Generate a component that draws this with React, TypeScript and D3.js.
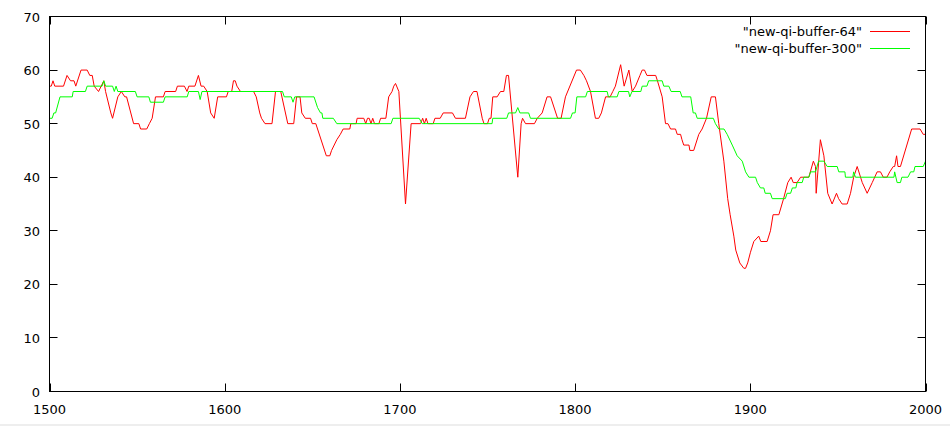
import React, { useEffect, useRef } from "react";
import * as d3 from "d3";

// values (x, y) vertices
const buffer64: [number, number][] = [
  [1500, 57], [1501, 57], [1502, 58], [1503, 57], [1508, 57], [1510, 59], [1512, 58],
  [1514, 58], [1515, 57], [1518, 60], [1521.5, 60], [1523, 59], [1524.4, 59], [1525.5, 57],
  [1528, 56], [1531, 58], [1532, 56], [1535, 52], [1536, 51], [1539, 55], [1541, 56],
  [1543, 55], [1544, 55], [1548, 50], [1551, 50], [1552, 49], [1555.5, 49], [1557, 50],
  [1558.6, 51], [1560.5, 55], [1565, 55], [1566, 56], [1572, 56], [1573, 57], [1577, 57],
  [1578.5, 56], [1579.5, 57], [1583, 57], [1585, 59], [1586.5, 57], [1588, 57], [1590, 56],
  [1592, 52], [1594, 51], [1596, 55], [1601, 55], [1602, 56], [1604, 56], [1605, 58],
  [1606, 58], [1607, 57], [1609, 56], [1616.5, 56], [1618, 55], [1620, 52], [1621, 51],
  [1623, 50], [1627, 50], [1629, 56], [1632, 56], [1636, 50], [1639.4, 50], [1641, 55],
  [1643, 55], [1644, 52], [1646, 51], [1649, 51], [1650, 50], [1652, 50], [1658, 44],
  [1660, 44], [1661, 45], [1664, 47], [1666, 48], [1667.6, 49], [1671.4, 49], [1672, 50],
  [1675, 50], [1675.6, 51], [1679.4, 51], [1680.5, 50], [1681.5, 51], [1682.5, 51],
  [1683.5, 50], [1684.5, 51], [1685.5, 50], [1688, 50], [1689, 51], [1692, 51],
  [1693.6, 55], [1695.5, 56], [1696.5, 57], [1697.5, 57.5], [1699.4, 56], [1703.2, 35],
  [1706.4, 50], [1711.8, 50], [1713, 51], [1714, 50], [1715, 51], [1716, 50], [1719, 50],
  [1720, 51], [1723, 51], [1724.7, 52], [1730, 52], [1731.7, 51], [1737.4, 51], [1740, 55],
  [1742, 56], [1744, 56], [1747, 51], [1748, 50], [1750, 50], [1751, 51], [1752, 51],
  [1753, 55], [1755.5, 55], [1757.4, 56], [1759.3, 56], [1760.8, 59], [1762, 59],
  [1767.3, 40], [1769.2, 50], [1770, 51], [1771.7, 50], [1776.8, 50], [1778.4, 51],
  [1781.2, 52], [1784, 55], [1786, 55], [1790, 51], [1792, 51], [1794.5, 55], [1800.8, 60],
  [1803, 60], [1805, 59], [1806.5, 58], [1808.8, 56], [1811.6, 51], [1813.5, 51],
  [1815, 52], [1817.4, 55], [1820, 55], [1821.5, 56], [1823, 57], [1826, 61], [1828, 57],
  [1830.7, 60], [1832.6, 56], [1834.5, 57], [1837, 59], [1838.3, 60], [1839.6, 60],
  [1841, 59], [1846, 59], [1847, 58], [1849.7, 55], [1851.6, 50], [1853, 50], [1854.5, 49],
  [1857.3, 49], [1858.3, 48], [1860.2, 48], [1861, 47], [1862, 46], [1865, 46],
  [1865.5, 45], [1867.7, 45], [1870.6, 48], [1872.5, 49], [1875, 51], [1877.7, 55],
  [1880.1, 55], [1882, 50], [1884.9, 43], [1887.1, 36], [1888.5, 33], [1890.6, 29],
  [1891.7, 26.4], [1894, 24], [1896.3, 23], [1897.3, 23], [1898.5, 24], [1900.1, 26],
  [1902, 28], [1904.8, 29], [1906, 28], [1909.6, 28], [1911.5, 30], [1913, 33],
  [1916.3, 33], [1919, 36], [1921.4, 39], [1923.3, 40], [1924.5, 39], [1926.7, 39],
  [1928.7, 40], [1933.4, 40], [1936, 43], [1937.2, 42], [1937.6, 37], [1940, 47],
  [1942, 44], [1944.2, 37], [1946.7, 35], [1949.2, 37], [1950.4, 36], [1952.4, 35],
  [1955.3, 35], [1957.2, 37], [1959, 40], [1961, 42], [1963.9, 39], [1966.7, 37],
  [1969.6, 39], [1972.4, 41], [1974.3, 41], [1975.9, 40], [1978, 40], [1979.6, 41],
  [1981.6, 42], [1982.4, 42], [1983.5, 44], [1984.3, 42], [1985.7, 42], [1992.1, 49],
  [1996.9, 49], [1998.7, 48], [2000, 48],
];

const buffer300: [number, number][] = [
  [1500, 51], [1501.5, 51], [1502.5, 52], [1503.5, 52], [1506, 55], [1513, 55],
  [1513.5, 56], [1520.5, 56], [1521.5, 57], [1530, 57], [1531, 58], [1532, 57],
  [1536, 57], [1537, 56], [1538, 57], [1539, 56], [1549, 56], [1550, 55], [1556.7, 55],
  [1557.6, 54], [1565, 54], [1566, 55], [1578.6, 55], [1579.5, 56], [1585, 56],
  [1586, 54.5], [1587, 56], [1633, 56], [1634, 55], [1638, 55], [1639, 54], [1640, 55],
  [1651, 55], [1653, 53], [1654.7, 52], [1655.5, 52], [1656, 51], [1662, 51], [1664, 50],
  [1695, 50], [1696, 51], [1711, 51], [1712.7, 50], [1752.6, 50], [1753, 51], [1761, 51],
  [1762, 52], [1766, 52], [1767.3, 53], [1768.5, 52], [1773.5, 52], [1774.5, 51],
  [1797.4, 51], [1798.5, 52], [1800, 52], [1801, 55], [1806, 55], [1807, 56],
  [1818.3, 56], [1819, 55], [1824, 55], [1825, 56], [1830.5, 56], [1831.2, 55],
  [1832.5, 56], [1837.5, 56], [1838.3, 57], [1841, 57], [1842, 58], [1849.7, 58],
  [1850.6, 57], [1853.5, 57], [1854.8, 56], [1860, 56], [1861, 55], [1866, 55],
  [1867.4, 52], [1868.7, 52], [1869.7, 51], [1878.9, 51], [1880.1, 50], [1882, 49],
  [1885, 49], [1886.8, 48], [1889.7, 46], [1892.5, 44], [1895.4, 43], [1897.3, 41],
  [1899.2, 40], [1903, 40], [1904, 39], [1905.8, 38], [1907.7, 38], [1908.5, 37],
  [1911.5, 37], [1912.5, 36], [1920, 36], [1921, 37], [1923, 37], [1924, 38], [1926, 38],
  [1926.7, 39], [1929.6, 39], [1930.5, 40], [1933.4, 40], [1934.4, 41], [1937.2, 41],
  [1939, 43], [1942, 43], [1943.9, 42], [1949.6, 42], [1950.5, 41], [1954, 41],
  [1954.3, 40], [1958.5, 40], [1959, 41], [1960, 40], [1982, 40], [1982.4, 41],
  [1983.8, 39], [1985.7, 39], [1986.5, 40], [1990, 40], [1991.5, 41], [1993.3, 41],
  [1994, 42], [1998.7, 42], [2000, 43],
];

const xTicks = [1500, 1600, 1700, 1800, 1900, 2000];
const yTicks = [0, 10, 20, 30, 40, 50, 60, 70];
const seriesNames = ['"new-qi-buffer-64"', '"new-qi-buffer-300"'];
const seriesColors = ["#ff0000", "#00ff00"];

const W = 950;
const H = 426;

export default function App() {
  const svgRef = useRef<SVGSVGElement>(null);

  useEffect(() => {
    const svg = d3.select(svgRef.current);
    svg.selectAll("*").remove();

    const left = 49.5, right = 925.5, top = 16.5, bottom = 391.5;
    const x = d3.scaleLinear().domain([1500, 2000]).range([left, right]);
    const y = d3.scaleLinear().domain([0, 70]).range([bottom, top]);
    const font = "DejaVu Sans, sans-serif";

    svg.append("rect").attr("width", W).attr("height", H).attr("fill", "#fff");
    // light strip along the bottom edge
    svg.append("rect").attr("x", 0).attr("y", 424).attr("width", W).attr("height", 2).attr("fill", "#eeeeee");

    const tickLen = 8;
    const g = svg.append("g").attr("stroke", "#000").attr("stroke-width", 1);

    xTicks.forEach((t) => {
      const px = Math.round(x(t)) + 0.5;
      g.append("line").attr("x1", px).attr("x2", px).attr("y1", bottom).attr("y2", bottom - tickLen);
      g.append("line").attr("x1", px).attr("x2", px).attr("y1", top).attr("y2", top + tickLen);
    });
    yTicks.forEach((t) => {
      const py = Math.round(y(t) - 0.5) + 0.5;
      g.append("line").attr("x1", left).attr("x2", left + tickLen).attr("y1", py).attr("y2", py);
      g.append("line").attr("x1", right).attr("x2", right - tickLen).attr("y1", py).attr("y2", py);
    });

    svg
      .selectAll(".xlab")
      .data(xTicks)
      .enter()
      .append("text")
      .attr("x", (d) => x(d))
      .attr("y", 414)
      .attr("text-anchor", "middle")
      .attr("font-family", font)
      .attr("font-size", 13)
      .text((d) => d);

    svg
      .selectAll(".ylab")
      .data(yTicks)
      .enter()
      .append("text")
      .attr("x", 40)
      .attr("y", (d) => y(d) + 5)
      .attr("text-anchor", "end")
      .attr("font-family", font)
      .attr("font-size", 13)
      .text((d) => d);

    const line = d3
      .line<[number, number]>()
      .x((d) => x(d[0]))
      .y((d) => y(d[1]));

    [buffer64, buffer300].forEach((data, i) => {
      svg
        .append("path")
        .datum(data)
        .attr("d", line)
        .attr("fill", "none")
        .attr("stroke", seriesColors[i])
        .attr("stroke-width", 1)
        .attr("stroke-linejoin", "round");
    });

    // Legend
    seriesNames.forEach((name, i) => {
      const cy = 31 + i * 17;
      svg
        .append("text")
        .attr("x", 862)
        .attr("y", cy + 4.5)
        .attr("text-anchor", "end")
        .attr("font-family", font)
        .attr("font-size", 13)
        .text(name);
      svg
        .append("line")
        .attr("x1", 870)
        .attr("x2", 910)
        .attr("y1", cy + 0.5)
        .attr("y2", cy + 0.5)
        .attr("stroke", seriesColors[i]);
    });

    svg
      .append("rect")
      .attr("x", left)
      .attr("y", top)
      .attr("width", right - left)
      .attr("height", bottom - top)
      .attr("fill", "none")
      .attr("stroke", "#000");
  }, []);

  return (
    <svg
      ref={svgRef}
      width={W}
      height={H}
      style={{ position: "absolute", left: 0, top: 0 }}
    />
  );
}
